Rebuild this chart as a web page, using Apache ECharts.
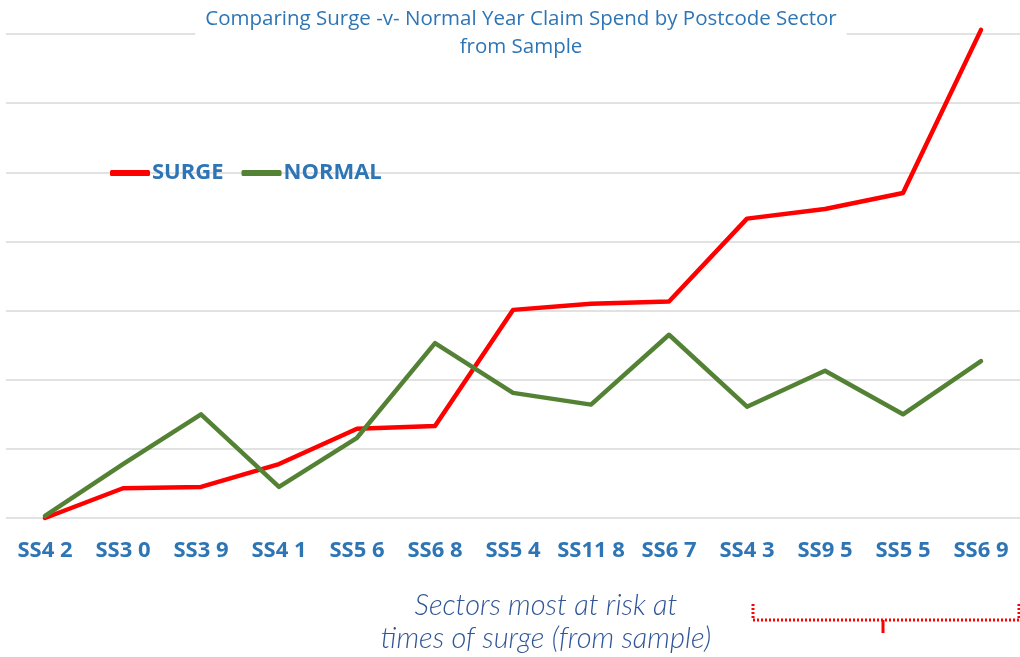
<!DOCTYPE html>
<html>
<head>
<meta charset="utf-8">
<style>
    html, body { margin: 0; padding: 0; background: #fff; }
    #main { width: 1020px; height: 657px; }
</style>
</head>
<body>
<div id="main"></div>
<script src="https://cdn.jsdelivr.net/npm/echarts@6/dist/echarts.min.js"></script>
<script>
    // 邮编分区
    var sectors = ['SS4 2', 'SS3 0', 'SS3 9', 'SS4 1', 'SS5 6', 'SS6 8', 'SS5 4', 'SS11 8', 'SS6 7', 'SS4 3', 'SS9 5', 'SS5 5', 'SS6 9'];
    // 峰值年
    var surge = [0, 0.43, 0.45, 0.78, 1.29, 1.33, 3.01, 3.10, 3.13, 4.33, 4.47, 4.70, 7.06];
    // 正常年
    var normal = [0.03, 0.78, 1.50, 0.45, 1.16, 2.53, 1.81, 1.64, 2.65, 1.61, 2.13, 1.50, 2.27];

    var blue = '#2E75B6';
    var myChart = echarts.init(document.getElementById('main'));
    var option = {
        backgroundColor: '#fff',
        animation: false,
        title: {
            text: 'Comparing Surge -v- Normal Year Claim Spend by Postcode Sector\nfrom Sample',
            left: 511,
            top: 3,
            textAlign: 'center',
            backgroundColor: '#fff',
            padding: [2, 10],
            textStyle: {
                color: blue,
                fontFamily: 'Open Sans',
                fontSize: 20.5,
                fontWeight: 'normal',
                lineHeight: 28
            }
        },
        legend: {
            left: 105,
            top: 157,
            icon: 'roundRect',
            itemWidth: 40,
            itemHeight: 6,
            itemGap: 18,
            textStyle: {
                color: blue,
                fontFamily: 'Open Sans',
                fontWeight: 'bold',
                fontSize: 22,
                padding: [0, 0, 0, -3]
            },
            data: ['SURGE', 'NORMAL']
        },
        grid: {
            left: 6,
            right: -4,
            top: 34,
            bottom: 139,
            containLabel: false
        },
        xAxis: {
            type: 'category',
            data: sectors,
            boundaryGap: true,
            axisLine: { show: false },
            axisTick: { show: false },
            axisLabel: {
                interval: 0,
                hideOverlap: false,
                margin: 22,
                color: blue,
                fontFamily: 'Open Sans',
                fontWeight: 'bold',
                fontSize: 22
            }
        },
        yAxis: {
            type: 'value',
            min: 0,
            max: 7,
            interval: 1,
            axisLabel: { show: false },
            axisLine: { show: false },
            axisTick: { show: false },
            splitLine: { lineStyle: { color: '#d9d9d9', width: 1.5 } }
        },
        series: [
            {
                name: 'SURGE',
                type: 'line',
                data: surge,
                clip: false,
                symbol: 'none',
                itemStyle: { color: '#FF0000' },
                lineStyle: { color: '#FF0000', width: 4.5, cap: 'round', join: 'round' }
            },
            {
                name: 'NORMAL',
                type: 'line',
                data: normal,
                clip: false,
                symbol: 'none',
                itemStyle: { color: '#548235' },
                lineStyle: { color: '#548235', width: 4.5, cap: 'round', join: 'round' }
            }
        ],
        graphic: [
            {
                type: 'text',
                style: {
                    x: 546,
                    y: 589,
                    text: 'Sectors most at risk at\ntimes of surge (from sample)',
                    textAlign: 'center',
                    fill: '#2F5597',
                    font: 'italic 300 29px Lato',
                    lineHeight: 33
                }
            },
            {
                type: 'polyline',
                shape: { points: [[753, 604], [753, 620], [1019, 620], [1019, 604]] },
                style: { stroke: '#FF0000', lineWidth: 3, lineDash: [2, 2], fill: null }
            },
            {
                type: 'line',
                shape: { x1: 883, y1: 620, x2: 883, y2: 633 },
                style: { stroke: '#FF0000', lineWidth: 3 }
            }
        ]
    };
    myChart.setOption(option);
</script>
</body>
</html>
